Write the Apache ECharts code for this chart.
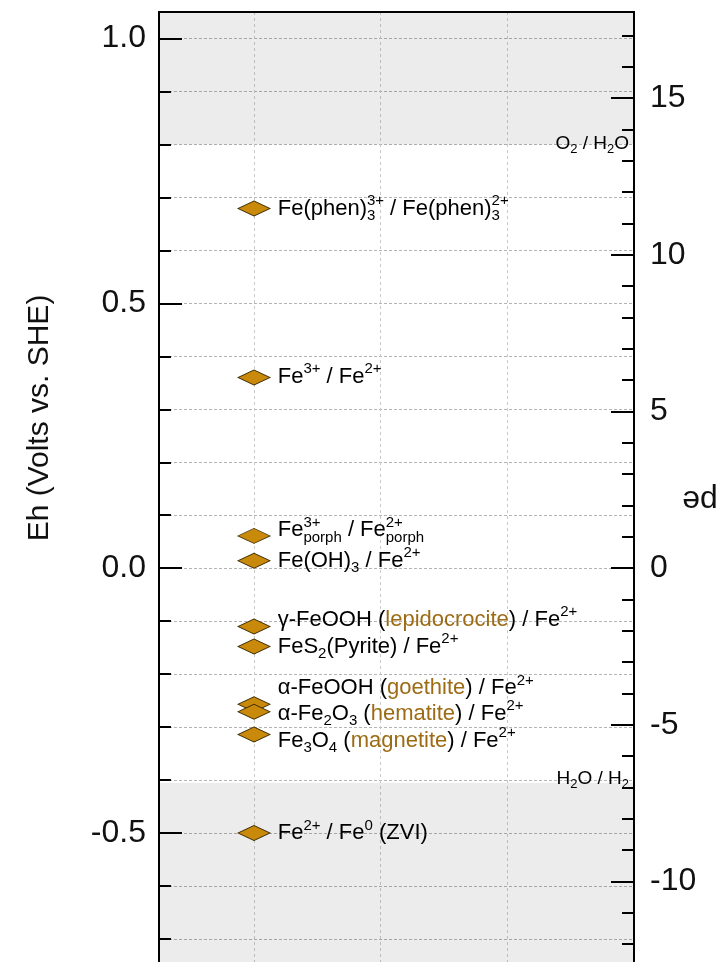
<!DOCTYPE html>
<html>
<head>
<meta charset="utf-8">
<script src="https://cdn.jsdelivr.net/npm/echarts@6/dist/echarts.min.js"></script>
<style>
html,body{margin:0;padding:0;background:#fff;}
#chart{width:724px;height:962px;}
</style>
</head>
<body>
<div id="chart"></div>
<script>
// ---- data ----
const couples = [
  'Fe(phen)3 3+/2+', 'Fe3+/Fe2+', 'Fe porph 3+/2+', 'Fe(OH)3/Fe2+',
  'γ-FeOOH/Fe2+', 'FeS2/Fe2+', 'α-FeOOH/Fe2+', 'α-Fe2O3/Fe2+',
  'Fe3O4/Fe2+', 'Fe2+/Fe0'
];
const ehValues = [0.679, 0.360, 0.061, 0.014, -0.110, -0.148, -0.257, -0.271, -0.314, -0.500];
const xPositions = [1, 1, 1, 1, 1, 1, 1, 1, 1, 1];
const coupleLabels = [
  'Fe(phen){z|3+}{w|3} / Fe(phen){z|2+}{w|3}',
  'Fe{p|3+} / Fe{p|2+}',
  'Fe{z|3+}{b|porph} / Fe{z|2+}{b|porph}',
  'Fe(OH){b|3} / Fe{p|2+}',
  'γ-FeOOH ({m|lepidocrocite}) / Fe{p|2+}',
  'FeS{b|2}(Pyrite) / Fe{p|2+}',
  'α-FeOOH ({m|goethite}) / Fe{p|2+}',
  'α-Fe{b|2}O{b|3} ({m|hematite}) / Fe{p|2+}',
  'Fe{b|3}O{b|4} ({m|magnetite}) / Fe{p|2+}',
  'Fe{p|2+} / Fe{p|0} (ZVI)'
];
const ehTicks = [-0.5, 0.0, 0.5, 1.0];
const peTicks = [-10, -5, 0, 5, 10, 15];
const o2h2oLimit = 0.8;     // Eh of O2/H2O boundary
const h2oh2Limit = -0.405;  // Eh of H2O/H2 boundary
const ehMin = -1.0, ehMax = 1.05;
const peFactor = 0.05916;   // V per pe unit
const peMin = -20;

// ---- styles ----
const FONT = '"Liberation Sans", Arial, Helvetica, sans-serif';
const INK = '#000';
const MINERAL = '#9c6b14';
const labelNudge = [0, -1, -6, 0, -7, 0, -16, 2, 6, 0];

const rich = {
  p: {fontSize: 15, lineHeight: 15, verticalAlign: 'top', fontFamily: FONT, color: INK},
  z: {fontSize: 15, lineHeight: 15, verticalAlign: 'top', fontFamily: FONT, color: INK, width: 0, align: 'left'},
  b: {fontSize: 15, lineHeight: 15, verticalAlign: 'bottom', fontFamily: FONT, color: INK},
  w: {fontSize: 15, lineHeight: 15, verticalAlign: 'bottom', fontFamily: FONT, color: INK, width: 17, align: 'left'},
  m: {fontSize: 22, lineHeight: 30, fontFamily: FONT, color: MINERAL}
};

const data = couples.map((n, i) => ({
  name: n,
  value: [xPositions[i], ehValues[i]],
  label: {formatter: coupleLabels[i], offset: [0, labelNudge[i]]}
}));

const chart = echarts.init(document.getElementById('chart'), null, {renderer: 'canvas'});
const near = (v, arr) => arr.find(t => Math.abs(t - v) < 1e-6);

const option = {
  animation: false,
  backgroundColor: '#fff',
  grid: [
    {left: 159, right: 90, top: 12, bottom: -135.9, outerBoundsMode: 'none', containLabel: false},
    {left: 159, right: 90, top: 12, bottom: -232.9, outerBoundsMode: 'none', containLabel: false},
    {left: 127.33, right: 90, top: 12, bottom: -135.9, outerBoundsMode: 'none', containLabel: false}
  ],
  xAxis: [
    {gridIndex: 0, type: 'value', min: 0.25, max: 4, position: 'top',
     axisLine: {show: true, onZero: false, lineStyle: {color: '#000', width: 2}},
     axisTick: {show: false}, axisLabel: {show: false}, splitLine: {show: false}},
    {gridIndex: 1, type: 'value', min: 0, max: 1, show: false},
    {gridIndex: 2, type: 'value', min: 0, max: 4, interval: 1,
     axisLine: {show: false, onZero: false}, axisTick: {show: false}, axisLabel: {show: false},
     splitLine: {show: true, showMinLine: false, showMaxLine: false,
                 lineStyle: {type: [3, 3], color: '#cacaca', width: 1}}}
  ],
  yAxis: [
    {gridIndex: 0, type: 'value', position: 'left', min: ehMin, max: ehMax, interval: 0.1,
     axisLine: {show: true, onZero: false, lineStyle: {color: '#000', width: 2}},
     axisTick: {show: true, inside: true, length: 12, lineStyle: {color: '#000', width: 2}},
     axisLabel: {show: false},
     splitLine: {show: true, lineStyle: {type: [3, 2], color: '#b4b4b4', width: 1}}},
    {gridIndex: 0, type: 'value', position: 'left', min: ehMin, max: ehMax, interval: 0.5,
     axisLine: {show: false, onZero: false},
     axisTick: {show: true, inside: true, length: 23, lineStyle: {color: '#000', width: 2}},
     axisLabel: {show: true, margin: 13, fontSize: 32, fontFamily: FONT, color: '#111',
                 formatter: v => { const t = near(v, ehTicks); return t === undefined ? '' : t.toFixed(1); }},
     splitLine: {show: false}},
    {gridIndex: 1, type: 'value', position: 'right', min: peMin, max: ehMax / peFactor, interval: 1,
     axisLine: {show: true, onZero: false, lineStyle: {color: '#000', width: 2}},
     axisTick: {show: true, inside: true, length: 12, lineStyle: {color: '#000', width: 2}},
     axisLabel: {show: false}, splitLine: {show: false}},
    {gridIndex: 1, type: 'value', position: 'right', min: peMin, max: ehMax / peFactor, interval: 5,
     axisLine: {show: false, onZero: false},
     axisTick: {show: true, inside: true, length: 23, lineStyle: {color: '#000', width: 2}},
     axisLabel: {show: true, margin: 16, fontSize: 32, fontFamily: FONT, color: '#111',
                 formatter: v => { const t = near(v, peTicks); return t === undefined ? '' : String(t); }},
     splitLine: {show: false}},
    {gridIndex: 2, type: 'value', min: 0, max: 1, show: false}
  ],
  series: [{
    type: 'scatter',
    xAxisIndex: 0, yAxisIndex: 0,
    symbol: 'diamond',
    symbolSize: [32, 15],
    itemStyle: {color: '#c98a0b', borderColor: '#3d2b00', borderWidth: 1, opacity: 1},
    emphasis: {disabled: true},
    label: {
      show: true, position: 'right', distance: 7,
      fontSize: 22, lineHeight: 30, fontFamily: FONT, color: INK,
      textBorderWidth: 0, opacity: 1,
      rich: rich
    },
    data: data,
    markArea: {
      silent: true,
      itemStyle: {color: 'rgba(0,0,0,0.075)'},
      label: {fontFamily: FONT, fontSize: 19, color: INK},
      data: [
        [{yAxis: o2h2oLimit, label: {show: true, position: 'insideBottomRight', offset: [0, 16],
            formatter: 'O{s|2} / H{s|2}O', fontSize: 19, lineHeight: 24, color: INK,
            rich: {s: {fontSize: 13, lineHeight: 13, verticalAlign: 'bottom', fontFamily: FONT, color: INK}}}},
         {yAxis: ehMax}],
        [{yAxis: ehMin, label: {show: true, position: 'insideTopRight', offset: [0, -21],
            formatter: 'H{s|2}O / H{s|2}', fontSize: 19, lineHeight: 24, color: INK,
            rich: {s: {fontSize: 13, lineHeight: 13, verticalAlign: 'bottom', fontFamily: FONT, color: INK}}}},
         {yAxis: h2oh2Limit}]
      ]
    }
  }],
  graphic: [
    {type: 'text', x: 40, y: 418, rotation: Math.PI / 2,
     style: {text: 'Eh (Volts vs. SHE)', font: '30px ' + FONT, fill: '#111', align: 'center', verticalAlign: 'middle'}},
    {type: 'text', x: 700, y: 500, rotation: Math.PI,
     style: {text: 'pe', font: '32px ' + FONT, fill: '#111', align: 'center', verticalAlign: 'middle'}}
  ]
};
chart.setOption(option);
</script>
</body>
</html>
